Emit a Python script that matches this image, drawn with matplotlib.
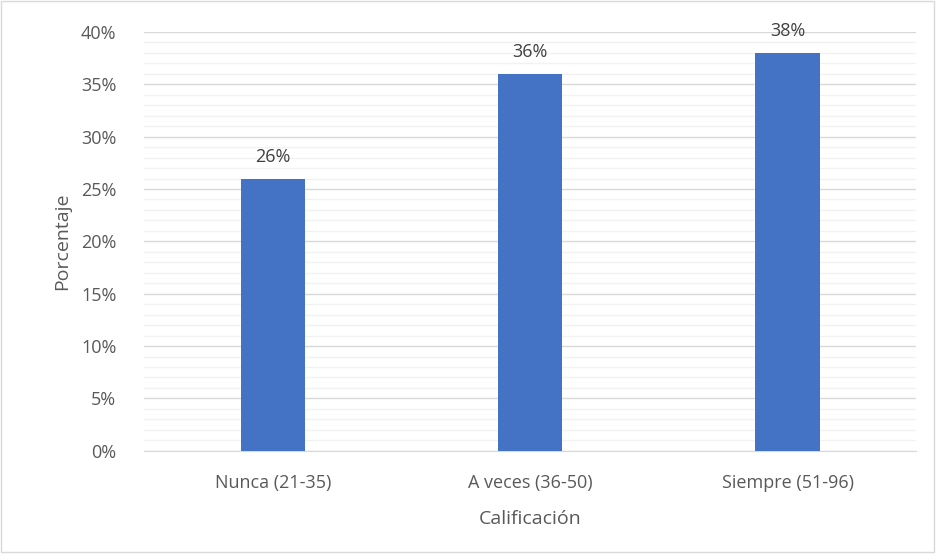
import numpy as np
from matplotlib import pyplot as plt
from matplotlib.ticker import MultipleLocator, PercentFormatter
from matplotlib.patches import Rectangle

categorias = ['Nunca (21-35)', 'A veces (36-50)', 'Siempre (51-96)']
porcentajes = [26, 36, 38]

plt.rcParams['font.family'] = ['Open Sans', 'DejaVu Sans']
gris = '#595959'

fig = plt.figure(figsize=(9.36, 5.6), dpi=100)
ax = fig.add_axes([0.154, 0.195, 0.825, 0.748])

x = np.arange(len(categorias))
ax.bar(x, porcentajes, width=0.25, color='#4472C4', zorder=3)
for xi, v in zip(x, porcentajes):
    ax.text(xi, v + 1.2, f'{v}%', ha='center', va='bottom', fontsize=13, color='#404040')

ax.set_xlim(-0.5, len(categorias) - 0.5)
ax.set_ylim(0, 40)
ax.yaxis.set_major_locator(MultipleLocator(5))
ax.yaxis.set_minor_locator(MultipleLocator(1))
ax.yaxis.set_major_formatter(PercentFormatter(decimals=0))
ax.grid(which='major', axis='y', color='#D9D9D9', linewidth=1, zorder=0)
ax.grid(which='minor', axis='y', color='#F2F2F2', linewidth=1, zorder=0)
ax.set_xticks(x)
ax.set_xticklabels(categorias)
ax.tick_params(axis='both', which='both', length=0, labelsize=13, colors=gris)
ax.tick_params(axis='y', pad=20)
ax.tick_params(axis='x', pad=17)
for s in ['top', 'right', 'left']:
    ax.spines[s].set_visible(False)
ax.spines['bottom'].set_color('#D9D9D9')

ax.set_xlabel('Calificación', fontsize=14, color=gris, labelpad=13)
ax.set_ylabel('Porcentaje', fontsize=14, color=gris, labelpad=7)

fig.patches.append(Rectangle((0.001, 0.015), 0.997, 0.983, transform=fig.transFigure,
                             fill=False, edgecolor='#D9D9D9', linewidth=1))

fig.savefig('out.png', dpi=100)
